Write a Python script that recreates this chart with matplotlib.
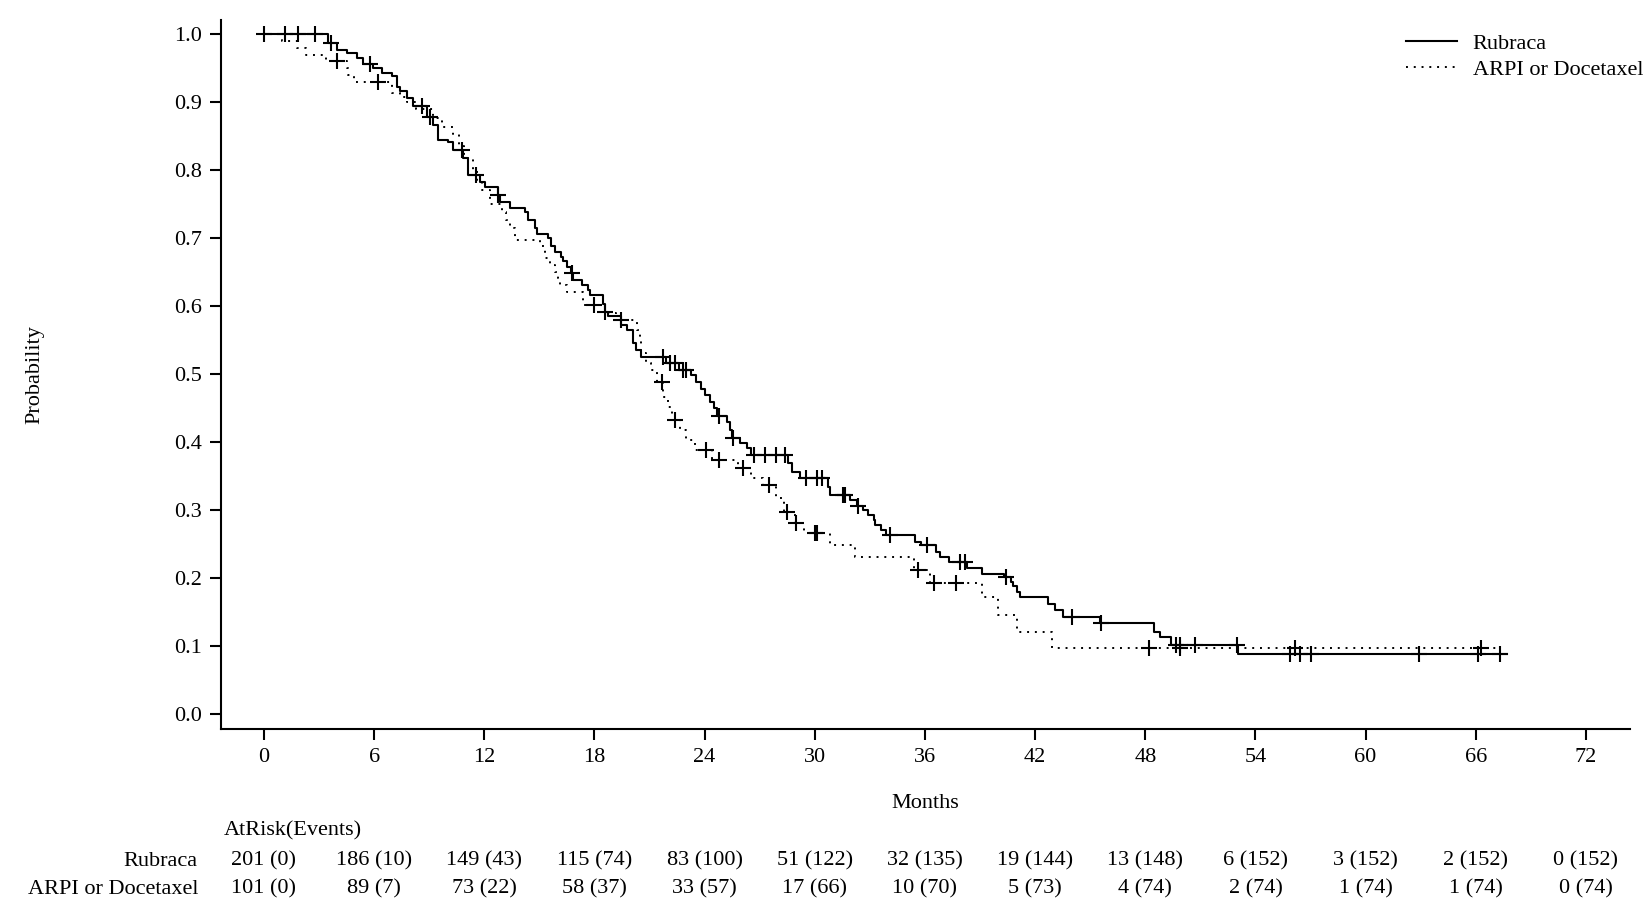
import numpy as np
import matplotlib
matplotlib.use("Agg")
import matplotlib.pyplot as plt
from matplotlib import transforms
from matplotlib.lines import Line2D

plt.rcParams["font.family"] = ["Liberation Serif", "DejaVu Serif"]

# Kaplan-Meier step points (month, probability)
rub_t = [0.0, 3.5, 3.96, 4.5, 5.05, 5.41, 5.95, 6.41, 6.95, 7.23, 7.41, 7.77, 8.13,
         8.86, 9.22, 9.49, 10.04, 10.31, 10.86, 11.13, 11.76, 12.04, 12.72, 12.85,
         13.4, 14.2, 14.4, 14.76, 14.85, 15.48, 15.65, 15.83, 16.2, 16.3, 16.5, 16.7,
         16.84, 17.3, 17.66, 17.75, 18.48, 18.57, 18.75, 19.47, 19.75, 20.1, 20.28,
         20.56, 21.9, 22.6, 23.28, 23.55, 23.8, 24.0, 24.3, 24.5, 24.7, 25.2, 25.37,
         25.5, 25.9, 26.3, 26.55, 28.56, 28.74, 29.2, 30.74, 30.83, 31.9, 32.3, 32.6,
         32.9, 33.2, 33.3, 33.6, 33.9, 35.46, 35.8, 36.6, 36.8, 37.3, 38.3, 39.1,
         40.3, 40.7, 40.8, 41.0, 41.2, 42.7, 43.1, 43.5, 45.55, 48.5, 48.8, 49.4,
         53.05, 67.7]
rub_s = [1.0, 0.987, 0.977, 0.972, 0.965, 0.957, 0.950, 0.943, 0.938, 0.923, 0.916,
         0.906, 0.894, 0.879, 0.867, 0.845, 0.842, 0.830, 0.818, 0.793, 0.783, 0.776,
         0.764, 0.754, 0.744, 0.739, 0.727, 0.715, 0.707, 0.700, 0.688, 0.680, 0.673,
         0.666, 0.658, 0.649, 0.639, 0.631, 0.624, 0.617, 0.604, 0.592, 0.585, 0.572,
         0.565, 0.546, 0.536, 0.526, 0.516, 0.506, 0.499, 0.489, 0.479, 0.470, 0.459,
         0.450, 0.438, 0.430, 0.418, 0.406, 0.399, 0.391, 0.381, 0.369, 0.357, 0.347,
         0.335, 0.323, 0.315, 0.307, 0.301, 0.293, 0.286, 0.278, 0.271, 0.264, 0.254,
         0.249, 0.239, 0.232, 0.224, 0.215, 0.207, 0.202, 0.195, 0.188, 0.180, 0.172,
         0.162, 0.153, 0.143, 0.134, 0.121, 0.113, 0.102, 0.088, 0.088]
rub_cens = [0.0, 1.14, 1.87, 2.78, 3.67, 5.77, 8.59, 9.04, 10.8, 11.57, 12.76, 16.75,
            18.6, 21.75, 22.1, 22.4, 22.8, 23.0, 24.8, 25.56, 26.7, 27.3, 27.9, 28.4,
            29.5, 30.1, 30.4, 31.55, 31.64, 32.35, 34.1, 36.1, 37.9, 38.2, 40.4, 44.0,
            45.6, 49.7, 49.9, 50.7, 53.0, 55.9, 56.4, 57.0, 62.9, 66.1, 67.3]

arpi_t = [0.0, 1.0, 1.8, 2.3, 3.4, 4.5, 4.6, 4.9, 7.0, 7.4, 7.8, 8.3, 9.2, 9.7, 10.3,
          10.6, 10.9, 11.4, 11.6, 11.85, 12.3, 12.95, 13.2, 13.4, 13.67, 15.03, 15.3,
          15.6, 15.85, 16.0, 16.1, 16.5, 17.4, 18.6, 19.2, 20.3, 20.5, 20.56, 20.8,
          21.1, 21.4, 21.75, 22.0, 22.2, 22.66, 23.0, 23.5, 24.4, 25.8, 26.5, 27.2,
          27.9, 28.3, 28.9, 29.4, 30.85, 32.2, 35.4, 36.3, 39.1, 40.0, 41.0, 42.9, 67.3]
arpi_s = [1.0, 0.99, 0.98, 0.97, 0.96, 0.95, 0.94, 0.93, 0.914, 0.908, 0.90, 0.89,
          0.877, 0.864, 0.854, 0.835, 0.818, 0.80, 0.786, 0.771, 0.751, 0.739, 0.727,
          0.715, 0.697, 0.688, 0.671, 0.661, 0.651, 0.641, 0.631, 0.621, 0.602, 0.59,
          0.58, 0.565, 0.55, 0.531, 0.516, 0.506, 0.489, 0.467, 0.452, 0.433, 0.418,
          0.403, 0.389, 0.374, 0.362, 0.347, 0.337, 0.318, 0.298, 0.281, 0.266, 0.249,
          0.232, 0.212, 0.193, 0.173, 0.146, 0.121, 0.0975, 0.0975]
arpi_cens = [3.96, 6.23, 18.0, 19.45, 21.66, 22.4, 24.1, 24.8, 26.1, 27.5, 28.5, 29.0,
             30.0, 30.1, 35.6, 36.5, 37.7, 48.2, 49.9, 56.15, 66.3]

# number at risk table
risk_months = [0, 6, 12, 18, 24, 30, 36, 42, 48, 54, 60, 66, 72]
rub_at_risk = [201, 186, 149, 115, 83, 51, 32, 19, 13, 6, 3, 2, 0]
rub_events = [0, 10, 43, 74, 100, 122, 135, 144, 148, 152, 152, 152, 152]
arpi_at_risk = [101, 89, 73, 58, 33, 17, 10, 5, 4, 2, 1, 1, 0]
arpi_events = [0, 7, 22, 37, 57, 66, 70, 73, 74, 74, 74, 74, 74]


def surv_at(t_steps, s_steps, times):
    t_steps = np.asarray(t_steps)
    s_steps = np.asarray(s_steps)
    idx = np.searchsorted(t_steps, times, side="right") - 1
    return s_steps[np.clip(idx, 0, len(s_steps) - 1)]


W, H = 1650, 922
fig = plt.figure(figsize=(W / 100, H / 100), dpi=100)
ax = fig.add_axes([221 / W, 1 - 729 / H, (1630 - 221) / W, (729 - 20) / H])

dots = (0, (1, 3))
ax.step(rub_t, rub_s, where="post", color="black", lw=1.5)
ax.step(arpi_t, arpi_s, where="post", color="black", lw=1.4, linestyle=dots)
ax.plot(rub_cens, surv_at(rub_t, rub_s, rub_cens), "+", color="black",
        ms=12, mew=1.5)
ax.plot(arpi_cens, surv_at(arpi_t, arpi_s, arpi_cens), "+", color="black",
        ms=12, mew=1.5)

ax.set_xlim(-2.34, 74.4)
ax.set_ylim(-0.0216, 1.021)
ax.set_xticks(risk_months)
ax.set_yticks(np.arange(0, 1.01, 0.1))
ax.set_yticklabels([f"{v:.1f}" for v in np.arange(0, 1.01, 0.1)])
for s in ["top", "right"]:
    ax.spines[s].set_visible(False)
for s in ["left", "bottom"]:
    ax.spines[s].set_linewidth(1.5)
ax.tick_params(axis="both", direction="out", length=8, width=1.5,
               labelsize=16, pad=6)

ax.set_xlabel("Months", fontsize=16)
ax.xaxis.set_label_coords(0.5, (729 - 803) / (729 - 20))
ax.xaxis.label.set_va("center")
ax.set_ylabel("Probability", fontsize=16)
ax.yaxis.set_label_coords((35 - 221) / (1630 - 221), 0.5)
ax.yaxis.label.set_va("center")

handles = [Line2D([], [], color="black", lw=1.5),
           Line2D([], [], color="black", lw=1.4, linestyle=dots)]
ax.legend(handles, ["Rubraca", "ARPI or Docetaxel"], loc="upper left",
          bbox_to_anchor=(1406 / W, 1 - 33 / H), bbox_transform=fig.transFigure,
          frameon=False, fontsize=16, handlelength=2.3, handletextpad=0.7,
          borderpad=0, borderaxespad=0, labelspacing=0.25)

# at-risk table
tr = transforms.blended_transform_factory(ax.transData, fig.transFigure)
fig.text(224 / W, 1 - 831 / H, "AtRisk(Events)", fontsize=16, ha="left", va="center")
fig.text(198 / W, 1 - 861 / H, "Rubraca", fontsize=16, ha="right", va="center")
fig.text(198 / W, 1 - 889 / H, "ARPI or Docetaxel", fontsize=16, ha="right", va="center")
for m, n, e in zip(risk_months, rub_at_risk, rub_events):
    ax.text(m, 1 - 861 / H, f"{n} ({e})", transform=tr, fontsize=16,
            ha="center", va="center")
for m, n, e in zip(risk_months, arpi_at_risk, arpi_events):
    ax.text(m, 1 - 889 / H, f"{n} ({e})", transform=tr, fontsize=16,
            ha="center", va="center")

fig.savefig("out.png", dpi=100)
